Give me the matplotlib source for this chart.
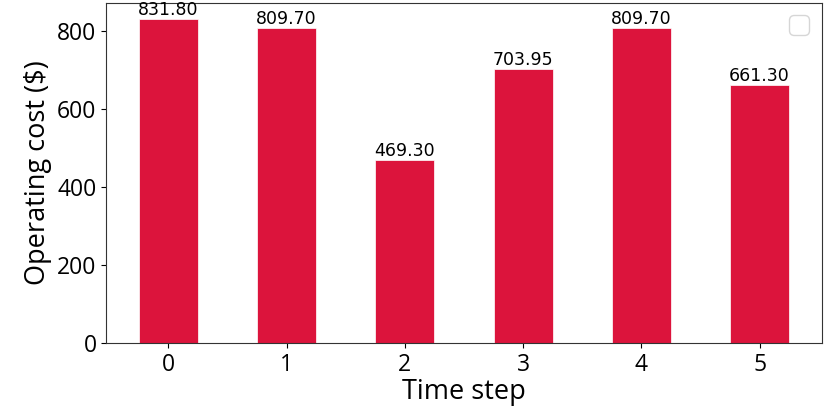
import matplotlib
matplotlib.use("Agg")
import matplotlib.pyplot as plt

steps = [0, 1, 2, 3, 4, 5]
costs = [831.80, 809.70, 469.30, 703.95, 809.70, 661.30]
yticks = [0, 200, 400, 600, 800]

LABEL_FONT = "Open Sans"

fig = plt.figure(figsize=(8.3, 4.08), dpi=100)
ax = fig.add_axes([0.128, 0.159, 0.862, 0.834])

bars = ax.bar(steps, costs, width=0.5, color="crimson", edgecolor="white", linewidth=0.5)
for rect, val in zip(bars, costs):
    ax.text(rect.get_x() + rect.get_width() / 2, rect.get_height(), f"{val:.2f}",
            ha="center", va="bottom", fontsize=12.5, family="DejaVu Sans")

ax.set_xlabel("Time step", fontsize=19.5, family=LABEL_FONT, labelpad=1)
ax.set_ylabel("Operating cost ($)", fontsize=19.5, family=LABEL_FONT)
ax.set_xticks(steps)
ax.set_yticks(yticks)
for lab in ax.get_xticklabels() + ax.get_yticklabels():
    lab.set_family(LABEL_FONT)
    lab.set_fontsize(16.5)
for s in ax.spines.values():
    s.set_color("#333333")
ax.legend(loc="upper right", fontsize=18)

fig.savefig("out.png", dpi=100)
